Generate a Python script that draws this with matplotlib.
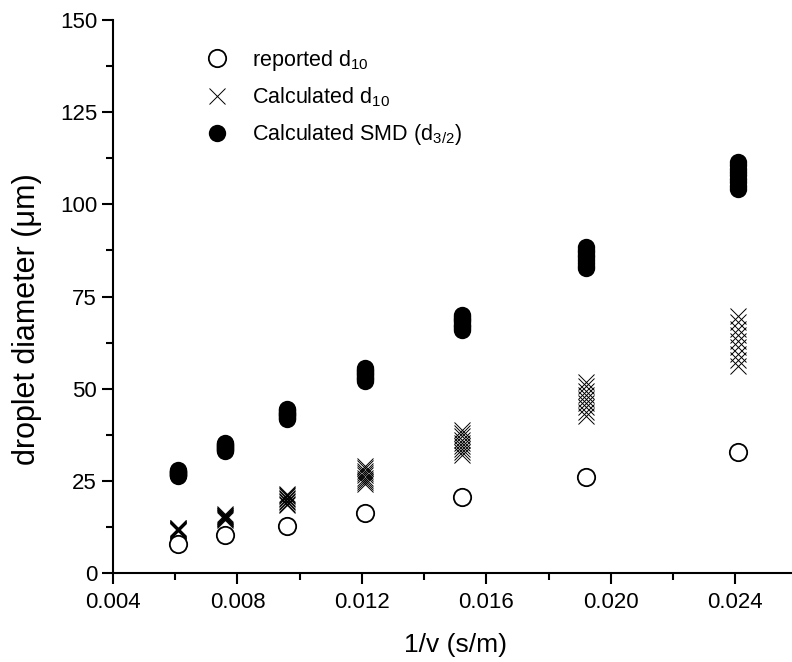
import matplotlib
matplotlib.use('Agg')
import matplotlib.pyplot as plt
from matplotlib.ticker import MultipleLocator, FormatStrFormatter

plt.rcParams['font.family'] = ['Liberation Sans', 'DejaVu Sans']
plt.rcParams['mathtext.fontset'] = 'custom'
plt.rcParams['mathtext.rm'] = 'Liberation Sans'
plt.rcParams['mathtext.it'] = 'Liberation Sans'

# 1/v positions of the seven cases
inv_v = [0.0061, 0.0076, 0.0096, 0.0121, 0.0152, 0.0192, 0.0241]

reported_d10 = [7.9, 10.3, 12.8, 16.4, 20.6, 26.0, 32.9]

calc_d10 = [
    [11.4, 11.5, 11.6, 11.7, 11.8, 11.9, 12.0, 12.1, 12.2],
    [14.4, 14.6, 14.8, 15.0, 15.2, 15.4, 15.6, 15.8, 16.0],
    [18.4, 18.8, 19.2, 19.6, 20.0, 20.4, 20.8, 21.1, 21.4],
    [24.1, 24.7, 25.3, 25.9, 26.5, 27.1, 27.7, 28.4, 29.0],
    [32.0, 32.8, 33.7, 34.5, 35.4, 36.2, 37.1, 37.9, 38.8],
    [42.6, 43.8, 44.9, 46.1, 47.2, 48.4, 49.5, 50.7, 51.8],
    [56.1, 57.8, 59.5, 61.2, 62.9, 64.6, 66.3, 68.0, 69.7],
]

smd = [
    [26.3, 26.5, 26.7, 26.9, 27.1, 27.3, 27.5, 27.7, 27.9],
    [33.1, 33.4, 33.6, 33.9, 34.2, 34.5, 34.7, 35.0, 35.3],
    [41.8, 42.1, 42.5, 42.8, 43.2, 43.5, 43.8, 44.2, 44.5],
    [52.1, 52.5, 53.0, 53.4, 53.9, 54.3, 54.7, 55.2, 55.6],
    [65.9, 66.4, 66.9, 67.4, 68.0, 68.5, 69.0, 69.5, 70.0],
    [82.7, 83.4, 84.1, 84.8, 85.6, 86.3, 87.0, 87.7, 88.4],
    [104.2, 105.1, 106.0, 106.9, 107.9, 108.8, 109.7, 110.6, 111.5],
]

fig = plt.figure(figsize=(7.92, 6.62), dpi=100)
ax = fig.add_axes([0.1427, 0.1344, 0.8573, 0.8354])

for x, ys in zip(inv_v, smd):
    h3, = ax.plot([x] * len(ys), ys, 'o', color='black', ms=12.5, mew=0, zorder=2)
for x, ys in zip(inv_v, calc_d10):
    h2, = ax.plot([x] * len(ys), ys, 'x', color='black', ms=11, mew=0.7, zorder=3)
h1, = ax.plot(inv_v, reported_d10, 'o', mfc='white', mec='black', ms=12.5, mew=1.3, zorder=4)

ax.set_xlim(0.004, 0.02582)
ax.set_ylim(0, 150)
ax.xaxis.set_major_locator(MultipleLocator(0.004))
ax.xaxis.set_minor_locator(MultipleLocator(0.002))
ax.xaxis.set_major_formatter(FormatStrFormatter('%.3f'))
ax.yaxis.set_major_locator(MultipleLocator(25))
ax.yaxis.set_minor_locator(MultipleLocator(12.5))

for side in ['top', 'right']:
    ax.spines[side].set_visible(False)
for side in ['left', 'bottom']:
    ax.spines[side].set_linewidth(1.5)
ax.tick_params(which='major', direction='out', length=8, width=1.5, labelsize=16)
ax.tick_params(which='minor', direction='out', length=5, width=1.5)
ax.tick_params(axis='x', which='major', pad=6)

ax.set_xlabel('1/v (s/m)', fontsize=19)
ax.set_ylabel('droplet diameter (\u03bcm)', fontsize=22)
ax.xaxis.set_label_coords(0.504, -0.108)
ax.yaxis.set_label_coords(-0.105, 0.46)

ax.legend([h1, h2, h3],
          ['reported d$_{10}$', 'Calculated d$_{10}$', 'Calculated SMD (d$_{3/2}$)'],
          loc='upper left', bbox_to_anchor=(0.093, 0.985), frameon=False, fontsize=15.5,
          handletextpad=0.6, labelspacing=0.6)

plt.savefig('out.png', dpi=100)
plt.close()
